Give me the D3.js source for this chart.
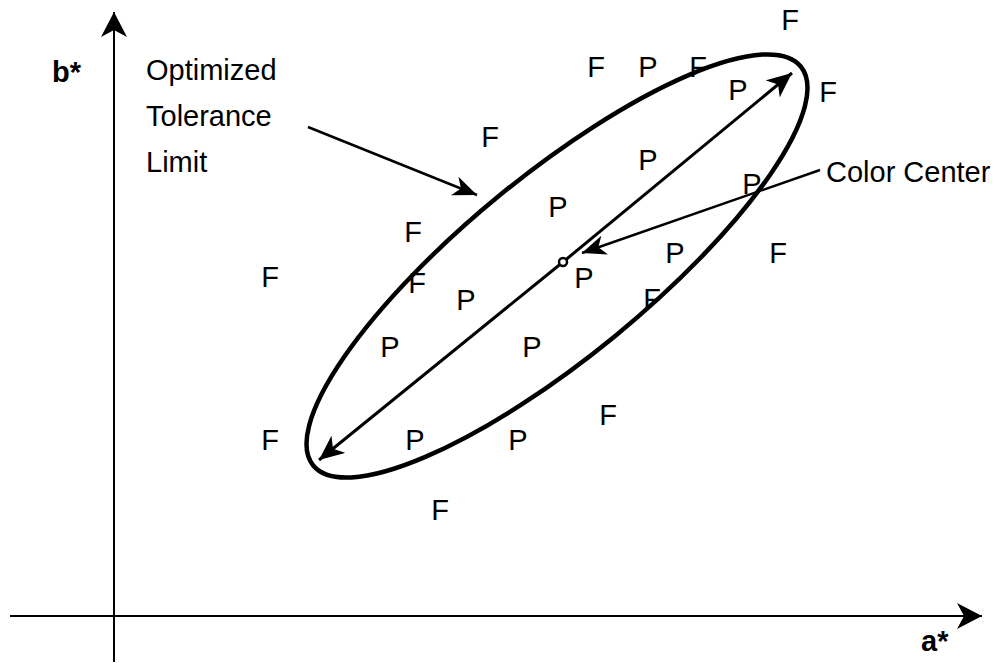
<!DOCTYPE html>
<html>
<head>
<meta charset="utf-8">
<script src="https://cdn.jsdelivr.net/npm/d3@7"></script>
<style>
  body { margin: 0; background: #fff; }
  text { font-family: "Liberation Sans", Arial, sans-serif; fill: #000; }
</style>
</head>
<body>
<div id="chart"></div>
<script>
// samples that fail (F) and pass (P), in a*/b* units
var failA = [67.6, 48.2, 58.4, 71.4, 37.6, 29.9, 15.6, 30.3, 53.8, 66.4, 49.4, 15.6, 32.6];
var failB = [59.6, 54.9, 54.9, 52.4, 47.9, 38.4, 33.9, 33.3, 31.7, 36.3, 20.1, 17.6, 10.6];
var passA = [53.4, 62.4, 53.4, 44.4, 63.8, 56.1, 47.0, 35.2, 27.6, 41.8, 30.1, 40.4];
var passB = [54.9, 52.6, 45.6, 40.9, 43.2, 36.3, 33.8, 31.6, 26.9, 26.9, 17.6, 17.6];

// tolerance ellipse: center, semi axes, tilt (deg)
var ellCenter = [44.3, 35.0];
var ellAxes = [31.5, 9.1];
var ellAngle = 39.3;
var colorCenter = [44.9, 35.4];
var majorEnds = [[67.8, 54.3], [20.5, 15.6]];

// callouts
var labelLines = ["Optimized", "Tolerance", "Limit"];
var toleranceArrow = [[19.4, 48.9], [36.3, 42.1]];
var centerArrow = [[70.6, 44.6], [46.8, 36.3]];
var axisA = [-10.4, 86.8];
var axisB = [-4.6, 60.4];

var width = 1006, height = 663;
var fontSize = "29px";

var x = d3.scaleLinear().domain([0, 100]).range([114, 1114]);
var y = d3.scaleLinear().domain([0, 100]).range([616, -384]);

var svg = d3.select("#chart").append("svg")
    .attr("width", width)
    .attr("height", height);

var defs = svg.append("defs");
function addMarker(id, len, half) {
    defs.append("marker")
        .attr("id", id)
        .attr("markerUnits", "userSpaceOnUse")
        .attr("viewBox", (-len) + " " + (-half) + " " + (len + 1) + " " + (2 * half))
        .attr("refX", 0).attr("refY", 0)
        .attr("markerWidth", len + 1)
        .attr("markerHeight", 2 * half)
        .attr("orient", "auto")
        .append("path")
        .attr("d", "M0,0L" + (-len) + "," + (-half) + "L" + (-0.72 * len) + ",0L" + (-len) + "," + half + "Z")
        .attr("fill", "#000");
}
addMarker("axisHead", 25, 13);
addMarker("bigHead", 25, 11);
addMarker("smallHead", 24, 10);

// axes
svg.append("line")
    .attr("x1", x(axisA[0])).attr("y1", y(0))
    .attr("x2", x(axisA[1])).attr("y2", y(0))
    .attr("stroke", "#000").attr("stroke-width", 2)
    .attr("marker-end", "url(#axisHead)");
svg.append("line")
    .attr("x1", x(0)).attr("y1", y(axisB[0]))
    .attr("x2", x(0)).attr("y2", y(axisB[1]))
    .attr("stroke", "#000").attr("stroke-width", 2)
    .attr("marker-end", "url(#axisHead)");

svg.append("text")
    .attr("x", 52).attr("y", 72)
    .attr("dominant-baseline", "central")
    .style("font-size", fontSize).style("font-weight", "bold")
    .text("b*");
svg.append("text")
    .attr("x", 921).attr("y", 641)
    .attr("dominant-baseline", "central")
    .style("font-size", fontSize).style("font-weight", "bold")
    .text("a*");

// ellipse
var pxPerUnit = x(1) - x(0);
svg.append("ellipse")
    .attr("transform", "translate(" + x(ellCenter[0]) + "," + y(ellCenter[1]) + ") rotate(" + (-ellAngle) + ")")
    .attr("rx", ellAxes[0] * pxPerUnit)
    .attr("ry", ellAxes[1] * pxPerUnit)
    .attr("fill", "none")
    .attr("stroke", "#000")
    .attr("stroke-width", 4.5);

// major axis arrows from color center
majorEnds.forEach(function(e) {
    svg.append("line")
        .attr("x1", x(colorCenter[0])).attr("y1", y(colorCenter[1]))
        .attr("x2", x(e[0])).attr("y2", y(e[1]))
        .attr("stroke", "#000").attr("stroke-width", 3)
        .attr("marker-end", "url(#bigHead)");
});
svg.append("circle")
    .attr("cx", x(colorCenter[0])).attr("cy", y(colorCenter[1]))
    .attr("r", 4)
    .attr("fill", "#fff").attr("stroke", "#000").attr("stroke-width", 2.5);

// callout arrows
[toleranceArrow, centerArrow].forEach(function(a) {
    svg.append("line")
        .attr("x1", x(a[0][0])).attr("y1", y(a[0][1]))
        .attr("x2", x(a[1][0])).attr("y2", y(a[1][1]))
        .attr("stroke", "#000").attr("stroke-width", 2.5)
        .attr("marker-end", "url(#smallHead)");
});

svg.selectAll(".lbl")
    .data(labelLines)
    .enter()
    .append("text")
    .attr("class", "lbl")
    .attr("x", 146)
    .attr("y", function(d, i) { return 70 + i * 46; })
    .attr("dominant-baseline", "central")
    .style("font-size", fontSize)
    .text(function(d) { return d; });

svg.append("text")
    .attr("x", 826).attr("y", 172)
    .attr("dominant-baseline", "central")
    .style("font-size", fontSize)
    .text("Color Center");

// sample letters
function drawLetters(as, bs, ch) {
    svg.selectAll(".pt-" + ch)
        .data(as.map(function(a, i) { return [a, bs[i]]; }))
        .enter()
        .append("text")
        .attr("class", "pt-" + ch)
        .attr("x", function(d) { return x(d[0]); })
        .attr("y", function(d) { return y(d[1]); })
        .attr("text-anchor", "middle")
        .attr("dominant-baseline", "central")
        .style("font-size", fontSize)
        .text(ch);
}
drawLetters(failA, failB, "F");
drawLetters(passA, passB, "P");
</script>
</body>
</html>
